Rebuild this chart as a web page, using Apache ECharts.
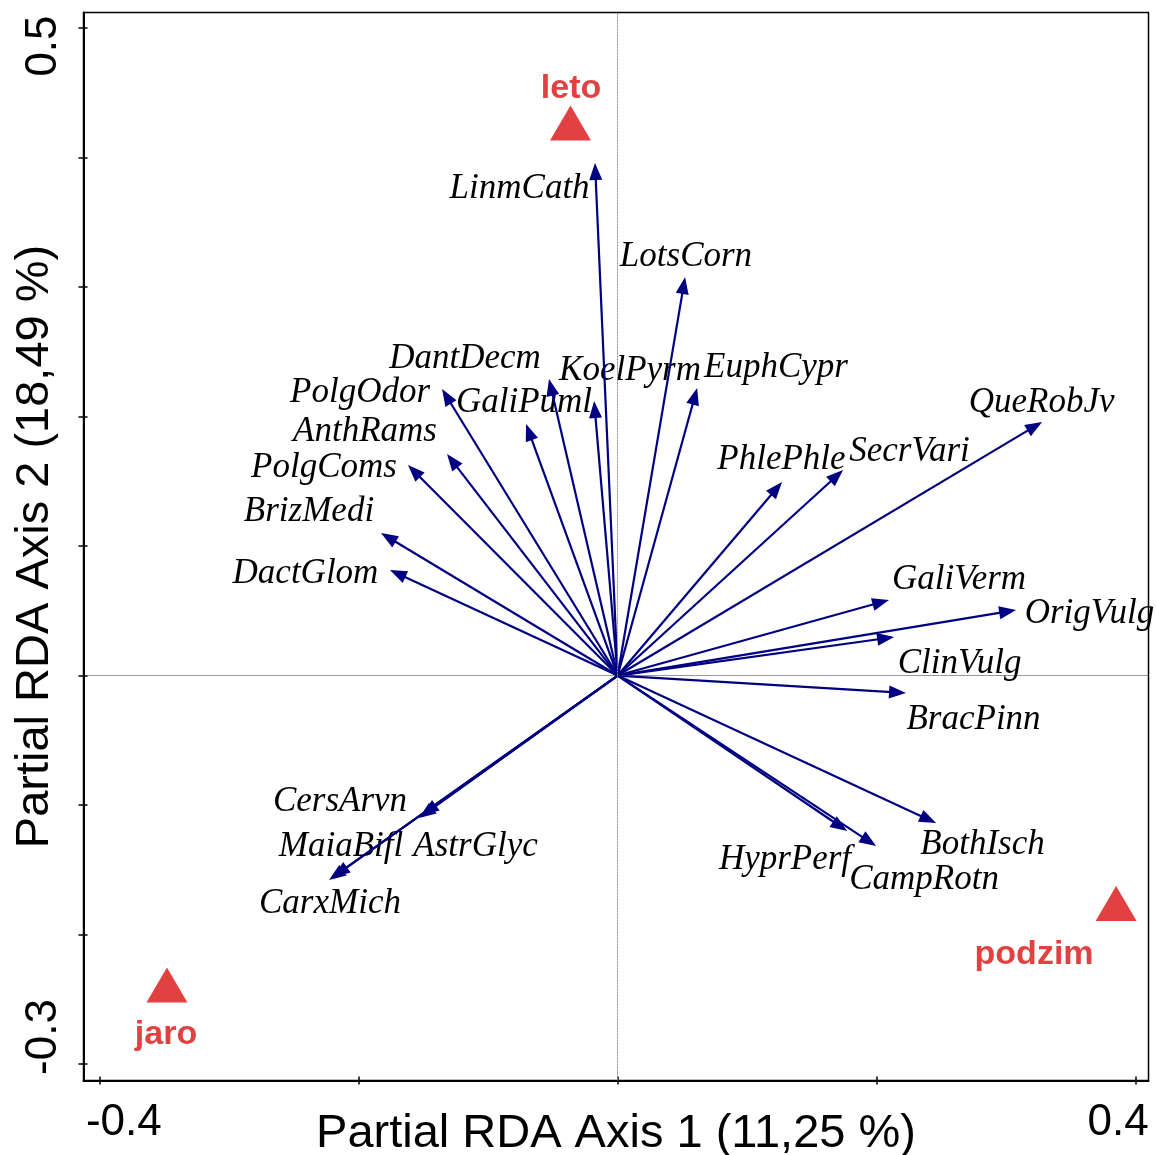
<!DOCTYPE html>
<html><head><meta charset="utf-8">
<script src="https://cdn.jsdelivr.net/npm/echarts@6/dist/echarts.min.js"></script>
<style>html,body{margin:0;padding:0;background:#fff}#c{width:1156px;height:1155px}</style>
</head><body><div id="c"></div>
<script>
// ---- data ----
const species = ['LinmCath','LotsCorn','EuphCypr','DantDecm','KoelPyrm','GaliPuml','PolgOdor','AnthRams','PolgComs','BrizMedi','DactGlom','PhlePhle','SecrVari','QueRobJv','GaliVerm','OrigVulg','ClinVulg','BracPinn','BothIsch','CampRotn','HyprPerf','CersArvn','AstrGlyc','MaiaBifl','CarxMich'];
const speciesAxis1 = [-0.0175, 0.0520, 0.0613, -0.0530, -0.0182, -0.0707, -0.1355, -0.1317, -0.1618, -0.1826, -0.1757, 0.1268, 0.1739, 0.3275, 0.2094, 0.3074, 0.2133, 0.2225, 0.2457, 0.1994, 0.1771, -0.1510, -0.1533, -0.2196, -0.2227];
const speciesAxis2 = [0.3958, 0.3077, 0.2220, 0.2290, 0.2120, 0.1942, 0.2212, 0.1710, 0.1625, 0.1100, 0.0815, 0.1494, 0.1587, 0.1958, 0.0583, 0.0506, 0.0297, -0.0135, -0.1139, -0.1317, -0.1201, -0.1078, -0.1100, -0.1556, -0.1579];
// where each species name is written (axis units)
const speciesLabelAxis1 = [-0.0757, 0.0527, 0.1222, -0.1178, 0.0095, -0.0723, -0.1988, -0.1950, -0.2266, -0.2382, -0.2409, 0.1264, 0.2252, 0.3271, 0.2634, 0.3641, 0.2638, 0.2746, 0.2815, 0.2364, 0.1291, -0.2143, -0.1097, -0.2135, -0.2220];
const speciesLabelAxis2 = [0.3760, 0.3235, 0.2378, 0.2447, 0.2355, 0.2108, 0.2185, 0.1884, 0.1606, 0.1266, 0.0787, 0.1668, 0.1729, 0.2108, 0.0741, 0.0478, 0.0092, -0.0340, -0.1305, -0.1576, -0.1421, -0.0973, -0.1321, -0.1321, -0.1761];

const seasons = ['leto', 'jaro', 'podzim'];
const seasonAxis1 = [-0.0364, -0.3478, 0.3846];
const seasonAxis2 = [0.4266, -0.2390, -0.1761];
const seasonLabelAxis1 = [-0.0360, -0.3485, 0.3213];
const seasonLabelAxis2 = [0.4530, -0.2775, -0.2158];

const xRange = [-0.4122, 0.4096];
const yRange = [-0.3127, 0.5120];
const xTicks = [-0.4, -0.2, 0, 0.2, 0.4];
const xTickLabels = [-0.4, 0.4];
const yTicks = [-0.3, -0.2, -0.1, 0, 0.1, 0.2, 0.3, 0.4, 0.5];
const yTickLabels = [-0.3, 0.5];
const xTitle = 'Partial RDA Axis 1 (11,25 %)';
const yTitle = 'Partial RDA Axis 2 (18,49 %)';

// ---- chart ----
const NAVY = '#000080';
const RED = '#E24141';
const SANS = '"Liberation Sans", Arial, sans-serif';
const SERIF = '"Liberation Serif", "Times New Roman", serif';

const chart = echarts.init(document.getElementById('c'), null, {renderer: 'canvas'});

const tickFont = {fontFamily: SANS, fontSize: 44, color: '#000'};
function richTick(first) {
  return {
    lo: Object.assign({}, tickFont, {padding: [0, 0, 0, first.lo]}),
    hi: Object.assign({}, tickFont, {padding: [0, first.hi, 0, 0]})
  };
}
function tickFormatter(labels) {
  return function (v) {
    const t = String(v);
    if (Math.abs(v - labels[0]) < 1e-9) return '{lo|' + t + '}';
    return '{hi|' + t + '}';
  };
}

const speciesArrows = species.map((n, i) => [speciesAxis1[i], speciesAxis2[i]]);
const speciesLabels = species.map((n, i) => [speciesLabelAxis1[i], speciesLabelAxis2[i]]);
const seasonPoints = seasons.map((n, i) => [seasonAxis1[i], seasonAxis2[i]]);
const seasonLabels = seasons.map((n, i) => [seasonLabelAxis1[i], seasonLabelAxis2[i]]);

const option = {
  animation: false,
  backgroundColor: '#fff',
  grid: {left: 83.5, right: 7.5, top: 12.5, bottom: 74.5, show: true, borderColor: '#000', borderWidth: 1.5, containLabel: false, outerBoundsMode: 'none'},
  xAxis: [{
    type: 'value', min: xRange[0], max: xRange[1], position: 'bottom',
    axisLine: {show: true, onZero: false, lineStyle: {color: '#000', width: 2}},
    axisTick: {show: true, inside: true, length: 4, customValues: xTicks, lineStyle: {color: '#000', width: 1.5}},
    axisLabel: {show: true, customValues: xTickLabels, margin: 20, formatter: tickFormatter(xTickLabels), rich: richTick({lo: 49, hi: 36}), fontFamily: SANS, fontSize: 44, color: '#000'},
    splitLine: {show: false},
    name: xTitle, nameLocation: 'middle', nameGap: 30, nameMoveOverlap: false,
    nameTextStyle: {fontFamily: SANS, fontSize: 47, color: '#000'}
  }, {
    type: 'value', min: xRange[0], max: xRange[1], position: 'bottom',
    axisLine: {show: false, onZero: false},
    axisTick: {show: true, inside: false, length: 4, customValues: xTicks, lineStyle: {color: '#000', width: 1.5}},
    axisLabel: {show: false}, splitLine: {show: false}
  }],
  yAxis: [{
    type: 'value', min: yRange[0], max: yRange[1], position: 'left',
    axisLine: {show: true, onZero: false, lineStyle: {color: '#000', width: 2}},
    axisTick: {show: true, inside: true, length: 4, customValues: yTicks, lineStyle: {color: '#000', width: 1.5}},
    axisLabel: {show: true, rotate: 90, customValues: yTickLabels, margin: 18, formatter: tickFormatter(yTickLabels), rich: richTick({lo: 54, hi: 36}), fontFamily: SANS, fontSize: 44, color: '#000'},
    splitLine: {show: false},
    name: yTitle, nameLocation: 'middle', nameGap: 25, nameMoveOverlap: false,
    nameTextStyle: {fontFamily: SANS, fontSize: 47, color: '#000'}
  }, {
    type: 'value', min: yRange[0], max: yRange[1], position: 'left',
    axisLine: {show: false, onZero: false},
    axisTick: {show: true, inside: false, length: 5, customValues: yTicks, lineStyle: {color: '#000', width: 1.5}},
    axisLabel: {show: false}, splitLine: {show: false}
  }],
  series: [
    {
      type: 'custom', name: 'speciesNames', coordinateSystem: 'cartesian2d', xAxisIndex: 0, yAxisIndex: 0,
      data: speciesLabels, silent: true, z: 2,
      renderItem: function (params, api) {
        const p = api.coord([api.value(0), api.value(1)]);
        return {type: 'text', x: p[0], y: p[1], style: {text: species[params.dataIndex], font: 'italic 35px ' + SERIF, fill: '#000', align: 'center', verticalAlign: 'middle'}};
      },
      markLine: {
        silent: true, symbol: 'none', animation: false, label: {show: false},
        data: [
          {xAxis: 0, lineStyle: {color: '#8a8a8a', width: 1, type: [2, 1]}},
          {yAxis: 0, lineStyle: {color: '#333', width: 1, type: [1, 1]}}
        ]
      }
    },
    {
      type: 'custom', name: 'speciesArrows', coordinateSystem: 'cartesian2d', xAxisIndex: 0, yAxisIndex: 0,
      data: speciesArrows, silent: true, z: 3,
      renderItem: function (params, api) {
        const o = api.coord([0, 0]);
        const t = api.coord([api.value(0), api.value(1)]);
        const dx = t[0] - o[0], dy = t[1] - o[1];
        const L = Math.sqrt(dx * dx + dy * dy) || 1;
        const ux = dx / L, uy = dy / L;
        const hl = 17, hw = 6.5;
        const bx = t[0] - ux * hl, by = t[1] - uy * hl;
        return {type: 'group', children: [
          {type: 'line', shape: {x1: o[0], y1: o[1], x2: bx + ux * 3, y2: by + uy * 3}, style: {stroke: NAVY, lineWidth: 2.2}},
          {type: 'polygon', shape: {points: [[t[0], t[1]], [bx - uy * hw, by + ux * hw], [bx + uy * hw, by - ux * hw]]}, style: {fill: NAVY}}
        ]};
      }
    },
    {
      type: 'scatter', name: 'seasons', xAxisIndex: 0, yAxisIndex: 0,
      data: seasonPoints, symbol: 'triangle', symbolSize: [41, 35], silent: true, z: 4,
      itemStyle: {color: RED, opacity: 1}
    },
    {
      type: 'custom', name: 'seasonNames', coordinateSystem: 'cartesian2d', xAxisIndex: 0, yAxisIndex: 0,
      data: seasonLabels, silent: true, z: 4,
      renderItem: function (params, api) {
        const p = api.coord([api.value(0), api.value(1)]);
        return {type: 'text', x: p[0], y: p[1], style: {text: seasons[params.dataIndex], font: 'bold 34px ' + SANS, fill: RED, align: 'center', verticalAlign: 'middle'}};
      }
    }
  ]
};
chart.setOption(option);
</script>
</body></html>
